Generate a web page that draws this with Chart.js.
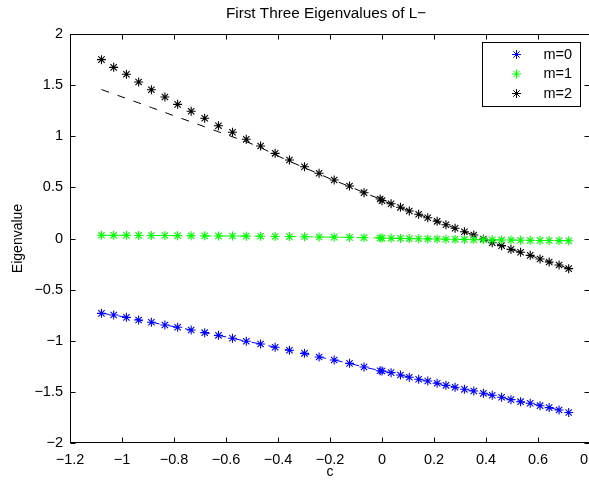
<!DOCTYPE html>
<html>
<head>
<meta charset="utf-8">
<script src="https://cdn.jsdelivr.net/npm/chart.js@4/dist/chart.umd.min.js"></script>
<style>
  html, body { margin: 0; padding: 0; background: #fff; overflow: hidden; }
  #wrap { width: 610px; height: 485px; }
</style>
</head>
<body>
<div id="wrap"><canvas id="chart"></canvas></div>
<script>
// c values: coarse sweep (left) and fine sweep (right)
const cLeft = [-1.079, -1.032, -0.983, -0.936, -0.887, -0.835, -0.786, -0.734, -0.682, -0.629, -0.575,
  -0.522, -0.467, -0.411, -0.356, -0.298, -0.242, -0.184, -0.125, -0.069, -0.007];
const cRight = [0.000, 0.035, 0.071, 0.105, 0.141, 0.176, 0.212, 0.246, 0.281, 0.317, 0.353,
  0.390, 0.424, 0.460, 0.496, 0.533, 0.570, 0.608, 0.643, 0.681, 0.718];

const m0Left = [-0.732, -0.748, -0.771, -0.797, -0.819, -0.846, -0.868, -0.895, -0.921, -0.947, -0.976,
  -1.005, -1.032, -1.064, -1.093, -1.123, -1.159, -1.188, -1.221, -1.257, -1.293];
const m0Right = [-1.296, -1.312, -1.335, -1.357, -1.377, -1.394, -1.416, -1.436, -1.455, -1.475, -1.491,
  -1.514, -1.533, -1.553, -1.576, -1.596, -1.611, -1.635, -1.654, -1.677, -1.702];

const m1Left = [0.032, 0.031, 0.031, 0.030, 0.029, 0.029, 0.028, 0.027, 0.026, 0.025, 0.024,
  0.023, 0.022, 0.020, 0.019, 0.017, 0.015, 0.013, 0.011, 0.008, 0.005];
const m1Right = [0.004, 0.002, 0.001, -0.001, -0.002, -0.004, -0.005, -0.007, -0.008, -0.009, -0.011,
  -0.012, -0.013, -0.014, -0.015, -0.017, -0.018, -0.019, -0.020, -0.021, -0.022];

const m2Left = [1.749, 1.674, 1.606, 1.531, 1.455, 1.384, 1.312, 1.244, 1.176, 1.103, 1.039,
  0.970, 0.905, 0.833, 0.768, 0.702, 0.638, 0.572, 0.513, 0.448, 0.386];
const m2Right = [0.370, 0.340, 0.305, 0.269, 0.237, 0.203, 0.168, 0.135, 0.100, 0.066, 0.034,
  -0.005, -0.041, -0.070, -0.106, -0.135, -0.165, -0.200, -0.230, -0.259, -0.295];
// dashed approximation for m=2 over the coarse sweep
const m2FitLeft = [1.457, 1.414, 1.369, 1.326, 1.281, 1.233, 1.188, 1.140, 1.093, 1.044, 0.995,
  0.947, 0.890, 0.819, 0.756, 0.692, 0.631, 0.567, 0.510, 0.447, 0.386];

const seriesLabels = ["m=0", "m=1", "m=2"];
const seriesColors = ["#0000ff", "#00ff00", "#000000"];
const xTickValues = [-1.2, -1, -0.8, -0.6, -0.4, -0.2, 0, 0.2, 0.4, 0.6, 0.8];
const yTickValues = [-2, -1.5, -1, -0.5, 0, 0.5, 1, 1.5, 2];

const FONT = "'Liberation Sans', Arial, Helvetica, sans-serif";
const pts = (xs, ys) => xs.map((x, i) => ({ x: x, y: ys[i] }));
const fmt = v => (v < 0 ? "\u2212" : "") + Math.abs(v);

const starSets = [m0Left.concat(m0Right), m1Left.concat(m1Right), m2Left.concat(m2Right)];
const lineSets = [m0Left.concat(m0Right), m1Left.concat(m1Right), m2FitLeft.concat(m2Right)];
const allC = cLeft.concat(cRight);

const datasets = [];
lineSets.forEach((ys, i) => {
  datasets.push({
    label: seriesLabels[i] + " line",
    data: pts(allC, ys),
    showLine: true,
    borderColor: seriesColors[i],
    borderWidth: 1,
    borderDash: [8, 9],
    pointRadius: 0,
    tension: 0,
    order: 2
  });
});
starSets.forEach((ys, i) => {
  datasets.push({
    label: seriesLabels[i],
    data: pts(allC, ys),
    showLine: false,
    pointStyle: "star",
    pointRadius: 4.5,
    borderColor: seriesColors[i],
    backgroundColor: seriesColors[i],
    pointBorderWidth: 1.1,
    order: 1
  });
});

// matlab style box, inner ticks, titles and legend
const matlabFrame = {
  id: "matlabFrame",
  afterDraw(chart) {
    const { ctx, chartArea: a, scales: { x, y } } = chart;
    const L = Math.round(a.left) + 0.5, R = Math.round(a.right) - 0.5;
    const T = Math.round(a.top) + 0.5, B = Math.round(a.bottom) - 0.5;
    ctx.save();
    ctx.strokeStyle = "#000";
    ctx.lineWidth = 1;
    ctx.strokeRect(L, T, R - L, B - T);
    ctx.beginPath();
    xTickValues.forEach(v => {
      const px = Math.round(x.getPixelForValue(v)) + 0.5;
      ctx.moveTo(px, B); ctx.lineTo(px, B - 5);
      ctx.moveTo(px, T); ctx.lineTo(px, T + 5);
    });
    yTickValues.forEach(v => {
      const py = Math.round(y.getPixelForValue(v)) + 0.5;
      ctx.moveTo(L, py); ctx.lineTo(L + 5, py);
      ctx.moveTo(R, py); ctx.lineTo(R - 5, py);
    });
    ctx.stroke();

    ctx.fillStyle = "#000";
    ctx.font = "15.3px " + FONT;
    ctx.textAlign = "center";
    ctx.textBaseline = "middle";
    ctx.fillText("First Three Eigenvalues of L\u2212", 326, 14);
    ctx.font = "14px " + FONT;
    ctx.fillText("c", (a.left + a.right) / 2, 472);
    ctx.save();
    ctx.translate(18, (a.top + a.bottom) / 2);
    ctx.rotate(-Math.PI / 2);
    ctx.fillText("Eigenvalue", 0, 0);
    ctx.restore();

    // legend
    const bx = Math.round(a.right) - 108 + 0.5, by = T + 8;
    const bw = 98, bh = 64;
    ctx.fillStyle = "#fff";
    ctx.fillRect(bx, by, bw, bh);
    ctx.strokeRect(bx, by, bw, bh);
    ctx.textAlign = "left";
    ctx.font = "14.5px " + FONT;
    seriesLabels.forEach((lab, i) => {
      const cy = by + 12 + i * 19.5;
      const cx = bx + 34;
      const r = 4.5, d = r * Math.SQRT1_2;
      ctx.strokeStyle = seriesColors[i];
      ctx.beginPath();
      ctx.moveTo(cx - r, cy); ctx.lineTo(cx + r, cy);
      ctx.moveTo(cx, cy - r); ctx.lineTo(cx, cy + r);
      ctx.moveTo(cx - d, cy - d); ctx.lineTo(cx + d, cy + d);
      ctx.moveTo(cx - d, cy + d); ctx.lineTo(cx + d, cy - d);
      ctx.stroke();
      ctx.fillStyle = "#000";
      ctx.fillText(lab, bx + 61, cy);
    });
    ctx.restore();
  }
};

const tickFont = { family: FONT, size: 14.5 };
new Chart(document.getElementById("chart"), {
  type: "scatter",
  data: { datasets: datasets },
  options: {
    responsive: true,
    maintainAspectRatio: false,
    animation: false,
    layout: { padding: { top: 34, right: 20, left: 0, bottom: 0 } },
    plugins: { legend: { display: false }, tooltip: { enabled: false }, title: { display: false } },
    scales: {
      x: {
        type: "linear", min: -1.2, max: 0.8,
        afterBuildTicks: s => { s.ticks = xTickValues.map(v => ({ value: v })); },
        afterFit: s => { s.height = 42; },
        grid: { display: false, drawTicks: false },
        border: { display: false },
        ticks: { padding: 8, color: "#000", font: tickFont, autoSkip: false, maxRotation: 0, callback: v => fmt(v) }
      },
      y: {
        type: "linear", min: -2, max: 2,
        afterBuildTicks: s => { s.ticks = yTickValues.map(v => ({ value: v })); },
        afterFit: s => { s.width = 70; },
        grid: { display: false, drawTicks: false },
        border: { display: false },
        ticks: { padding: 7, color: "#000", font: tickFont, autoSkip: false, callback: v => fmt(v) }
      }
    }
  },
  plugins: [matlabFrame]
});
</script>
</body>
</html>
